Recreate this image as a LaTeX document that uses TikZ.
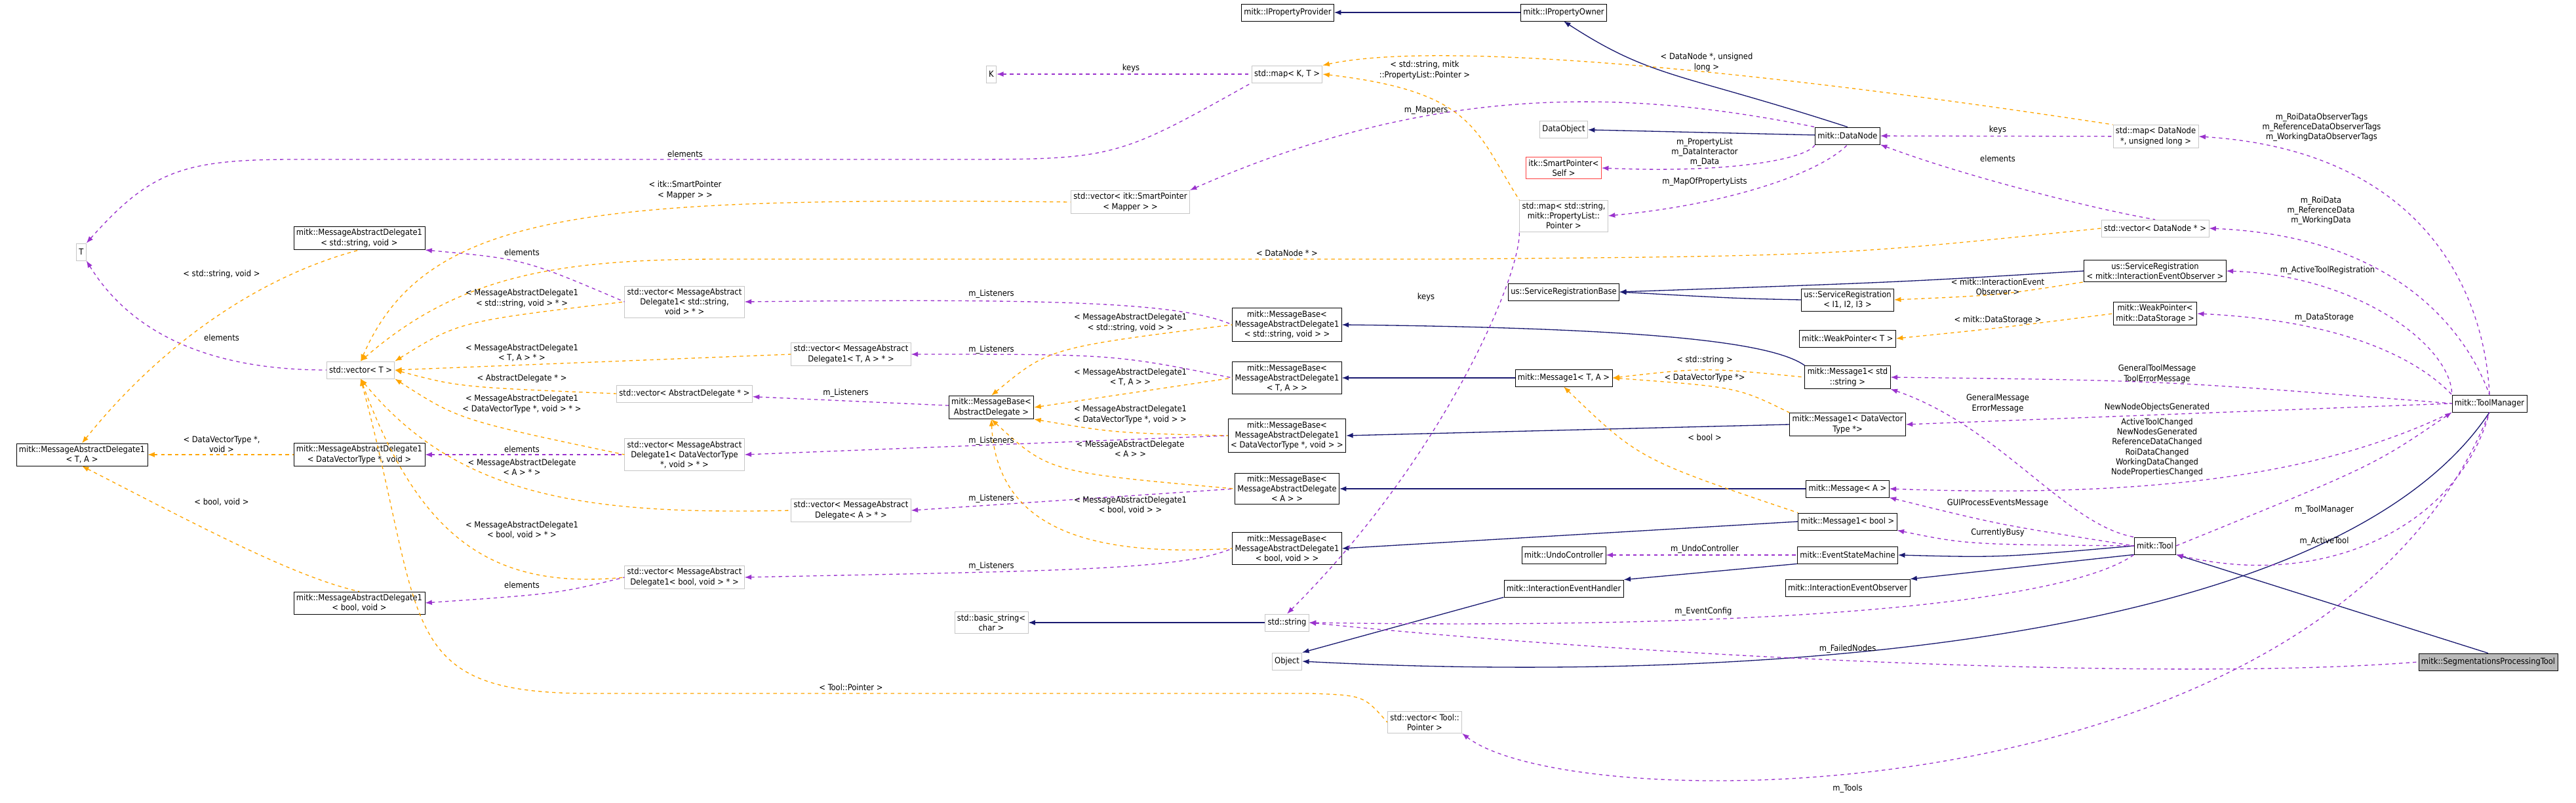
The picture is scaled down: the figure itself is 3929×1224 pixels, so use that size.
\documentclass[tikz,border=0pt]{standalone}
\usepackage{fontspec}
\setmainfont{DejaVu Sans Condensed}
\usetikzlibrary{arrows.meta}

\definecolor{inhblue}{RGB}{25,25,112}
\definecolor{usepurple}{RGB}{154,50,205}
\definecolor{tplorange}{RGB}{255,165,0}

\tikzset{
    cls/.style = {draw=black, fill=white, font=\fontsize{7.3}{8.6}\selectfont, align=center,
                  inner sep=2.2pt, minimum height=0.52cm, line width=0.45pt},
    ext/.style = {cls, draw=gray!45},
    lab/.style = {font=\fontsize{7.3}{8.6}\selectfont, align=center, inner sep=0pt},
    inh/.style = {draw=inhblue, line width=0.75pt, {Latex[length=6pt,width=4.5pt]}-},
    use/.style = {draw=usepurple, line width=0.75pt, dashed, {Latex[length=6pt,width=4.5pt]}-},
    tpl/.style = {draw=tplorange, line width=0.75pt, dashed, {Latex[length=6pt,width=4.5pt]}-}
}

\newcommand{\lbl}[3]{\node[lab] at (#1,#2) {#3};}

\begin{document}
\begin{tikzpicture}[x=0.02cm, y=-0.02cm]

\useasboundingbox (0,0) rectangle (3929,1224);

% column of templates on the left
\node (tt) [ext] at (124,384) {T};
\node (mad1ta) [cls] at (125,693) {mitk::MessageAbstractDelegate1\\< T, A >};
\node (mad1str) [cls] at (548,363) {mitk::MessageAbstractDelegate1\\< std::string, void >};
\node (vect) [ext] at (550,564) {std::vector< T >};
\node (mad1dvt) [cls] at (548,693) {mitk::MessageAbstractDelegate1\\< DataVectorType *, void >};
\node (mad1bool) [cls] at (548,919) {mitk::MessageAbstractDelegate1\\< bool, void >};

% listener vectors
\node (svecstr) [ext] at (1044,460) {std::vector< MessageAbstract\\Delegate1< std::string,\\ void > * >};
\node (svecta) [ext] at (1298,540) {std::vector< MessageAbstract\\Delegate1< T, A > * >};
\node (svecad) [ext] at (1044,600) {std::vector< AbstractDelegate * >};
\node (svecdvt) [ext] at (1044,693) {std::vector< MessageAbstract\\Delegate1< DataVectorType\\ *, void > * >};
\node (sveca) [ext] at (1298,778) {std::vector< MessageAbstract\\Delegate< A > * >};
\node (svecbool) [ext] at (1044,880) {std::vector< MessageAbstract\\Delegate1< bool, void > * >};

% message bases
\node (mbad) [cls] at (1512,621) {mitk::MessageBase<\\ AbstractDelegate >};
\node (mbstr) [cls] at (1963,495) {mitk::MessageBase<\\ MessageAbstractDelegate1\\< std::string, void > >};
\node (mbta) [cls] at (1963,576) {mitk::MessageBase<\\ MessageAbstractDelegate1\\< T, A > >};
\node (mbdvt) [cls] at (1963,664) {mitk::MessageBase<\\ MessageAbstractDelegate1\\< DataVectorType *, void > >};
\node (mba) [cls] at (1963,745) {mitk::MessageBase<\\ MessageAbstractDelegate\\< A > >};
\node (mbbool) [cls] at (1963,836) {mitk::MessageBase<\\ MessageAbstractDelegate1\\< bool, void > >};

% top part
\node (propprov) [cls] at (1964,19) {mitk::IPropertyProvider};
\node (propowner) [cls] at (2385,19) {mitk::IPropertyOwner};
\node (kkey) [ext] at (1512,113) {K};
\node (mapkt) [ext] at (1963,113) {std::map< K, T >};
\node (vecmapper) [ext] at (1724,308) {std::vector< itk::SmartPointer\\< Mapper > >};
\node (dataobj) [ext] at (2385,197) {DataObject};
\node (smartself) [cls, draw=red!75] at (2385,256) {itk::SmartPointer<\\ Self >};
\node (mapstrpl) [ext] at (2385,329) {std::map< std::string,\\ mitk::PropertyList::\\ Pointer >};
\node (datanode) [cls] at (2818,207) {mitk::DataNode};
\node (mapdn) [ext] at (3288,208) {std::map< DataNode\\ *, unsigned long >};
\node (vecdn) [ext] at (3287,348) {std::vector< DataNode * >};

% middle column
\node (srbase) [cls] at (2385,445) {us::ServiceRegistrationBase};
\node (m1ta) [cls] at (2385,576) {mitk::Message1< T, A >};
\node (undo) [cls] at (2385,846) {mitk::UndoController};
\node (ieh) [cls] at (2385,897) {mitk::InteractionEventHandler};
\node (basicstr) [ext] at (1512,949) {std::basic\_string<\\ char >};
\node (stdstr) [ext] at (1963,949) {std::string};
\node (object) [ext] at (1963,1008) {Object};
\node (vectool) [ext] at (2173,1101) {std::vector< Tool::\\ Pointer >};

\node (sr123) [cls] at (2818,457) {us::ServiceRegistration\\< I1, I2, I3 >};
\node (wpt) [cls] at (2818,516) {mitk::WeakPointer< T >};
\node (m1str) [cls] at (2818,575) {mitk::Message1< std\\ ::string >};
\node (m1dvt) [cls] at (2818,647) {mitk::Message1< DataVector\\ Type *>};
\node (msga) [cls] at (2818,745) {mitk::Message< A >};
\node (m1bool) [cls] at (2818,795) {mitk::Message1< bool >};
\node (esm) [cls] at (2818,846) {mitk::EventStateMachine};
\node (ieo) [cls] at (2818,896) {mitk::InteractionEventObserver};

\node (srieo) [cls] at (3287,413) {us::ServiceRegistration\\< mitk::InteractionEventObserver >};
\node (wpds) [cls] at (3287,478) {mitk::WeakPointer<\\ mitk::DataStorage >};
\node (tool) [cls] at (3287,832) {mitk::Tool};
\node (toolmgr) [cls] at (3797,615) {mitk::ToolManager};
\node (spt) [cls, fill=gray!55] at (3795,1009) {mitk::SegmentationsProcessingTool};

% inheritance
\draw[inh] (propprov) -- (propowner);
\draw[inh] (propowner.south) .. controls (2520,120) and (2560,110) .. (datanode.north);
\draw[inh] (dataobj) -- (datanode);
\draw[inh] (srbase.east) .. controls (2900,430) .. (srieo.west);
\draw[inh] (srbase.east) .. controls (2650,455) .. (sr123.west);
\draw[inh] (mbstr.east) .. controls (2500,500) and (2700,520) .. (m1str.north west);
\draw[inh] (mbta) -- (m1ta);
\draw[inh] (mbdvt.east) -- (m1dvt.west);
\draw[inh] (mba) -- (msga);
\draw[inh] (mbbool.east) -- (m1bool.west);
\draw[inh] (ieh.north east) -- (esm.south west);
\draw[inh] (object.north east) -- (ieh.south west);
\draw[inh] (esm.east) .. controls (3050,850) .. (tool.west);
\draw[inh] (ieo.north east) -- (tool.south west);
\draw[inh] (basicstr) -- (stdstr);
\draw[inh] (object.east) .. controls (2600,1040) and (3550,1000) .. (toolmgr.south);
\draw[inh] (tool.south east) -- (spt.north);

% members
\draw[use] (kkey) -- (mapkt);
\draw[use] (tt.north east) .. controls (230,260) and (280,243) .. (450,243) -- (1450,243) .. controls (1700,243) .. (mapkt.south west);
\draw[use] (tt.south east) .. controls (220,540) and (380,564) .. (vect.west);
\draw[use] (mad1str.south east) .. controls (800,395) .. (svecstr.west);
\draw[use] (mad1dvt) -- (svecdvt);
\draw[use] (mad1bool.east) .. controls (850,905) .. (svecbool.west);
\draw[use] (svecstr.east) .. controls (1600,455) and (1800,460) .. (mbstr.west);
\draw[use] (svecta.east) .. controls (1700,540) .. (mbta.west);
\draw[use] (svecad) -- (mbad);
\draw[use] (svecdvt.east) -- (mbdvt.west);
\draw[use] (sveca.east) -- (mba.west);
\draw[use] (svecbool.east) .. controls (1600,870) and (1800,870) .. (mbbool.west);
\draw[use] (vecmapper.north east) .. controls (2200,120) and (2500,140) .. (datanode.north west);
\draw[use] (smartself.east) .. controls (2650,265) and (2760,240) .. (datanode.south west);
\draw[use] (mapstrpl.east) .. controls (2650,310) and (2780,260) .. (datanode.south);
\draw[use] (stdstr.north) .. controls (2200,700) and (2320,420) .. (mapstrpl.south west);
\draw[use] (datanode) -- (mapdn);
\draw[use] (datanode.south east) .. controls (3000,270) and (3200,320) .. (vecdn.north);
\draw[use] (mapdn.east) .. controls (3700,230) and (3790,450) .. (toolmgr.north);
\draw[use] (vecdn.east) .. controls (3650,360) and (3760,500) .. (toolmgr.north);
\draw[use] (srieo.east) .. controls (3600,420) and (3740,530) .. (toolmgr.north west);
\draw[use] (wpds.east) .. controls (3600,490) and (3700,560) .. (toolmgr.north west);
\draw[use] (m1str.east) .. controls (3300,580) .. (toolmgr.west);
\draw[use] (m1dvt.east) -- (toolmgr.west);
\draw[use] (msga.east) .. controls (3300,760) and (3550,720) .. (toolmgr.south west);
\draw[use] (m1str.south east) .. controls (3050,650) and (3150,800) .. (tool.north west);
\draw[use] (msga.south east) .. controls (3050,800) .. (tool.west);
\draw[use] (m1bool.south east) .. controls (3000,830) .. (tool.west);
\draw[use] (undo) -- (esm);
\draw[use] (stdstr.east) .. controls (2700,960) and (3150,920) .. (tool.south west);
\draw[use] (stdstr.east) .. controls (2500,1000) and (3300,1040) .. (spt.west);
\draw[use] (toolmgr.south west) .. controls (3620,710) .. (tool.east);
\draw[use] (tool.south east) .. controls (3550,900) and (3750,800) .. (toolmgr.south);
\draw[use] (vectool.south east) .. controls (2400,1250) and (3550,1250) .. (toolmgr.south);

% template instances
\draw[tpl] (mapkt.north east) .. controls (2200,60) and (2700,110) .. (mapdn.north west);
\draw[tpl] (mapkt.east) .. controls (2250,140) and (2250,200) .. (mapstrpl.north west);
\draw[tpl] (vect.north) .. controls (650,320) and (900,300) .. (vecmapper.west);
\draw[tpl] (vect.north) .. controls (700,420) and (850,395) .. (1100,395) -- (2200,395) .. controls (2800,390) .. (vecdn.west);
\draw[tpl] (vect.north east) .. controls (700,490) .. (svecstr.west);
\draw[tpl] (vect.east) -- (svecta.west);
\draw[tpl] (vect.east) .. controls (700,590) .. (svecad.west);
\draw[tpl] (vect.south east) .. controls (700,640) .. (svecdvt.west);
\draw[tpl] (vect.south) .. controls (700,760) and (900,785) .. (sveca.west);
\draw[tpl] (vect.south) .. controls (640,820) and (750,900) .. (svecbool.west);
\draw[tpl] (vect.south) .. controls (650,950) and (600,1057) .. (900,1057) -- (2000,1057) .. controls (2080,1060) .. (vectool.west);
\draw[tpl] (mad1ta.north) .. controls (250,520) and (400,420) .. (mad1str.south);
\draw[tpl] (mad1ta) -- (mad1dvt);
\draw[tpl] (mad1ta.south) .. controls (300,800) and (450,880) .. (mad1bool.north);
\draw[tpl] (mbad.north) .. controls (1600,530) .. (mbstr.west);
\draw[tpl] (mbad.east) -- (mbta.west);
\draw[tpl] (mbad.south east) .. controls (1700,660) .. (mbdvt.west);
\draw[tpl] (mbad.south) .. controls (1600,720) .. (mba.west);
\draw[tpl] (mbad.south) .. controls (1520,800) and (1650,850) .. (mbbool.west);
\draw[tpl] (sr123.east) .. controls (3050,450) .. (srieo.south west);
\draw[tpl] (wpt.east) .. controls (3050,500) .. (wpds.west);
\draw[tpl] (m1ta.east) .. controls (2600,560) .. (m1str.west);
\draw[tpl] (m1ta.east) .. controls (2650,590) .. (m1dvt.north west);
\draw[tpl] (m1ta.south) .. controls (2500,700) .. (m1bool.north west);

% labels
\lbl{1725}{104}{keys}
\lbl{1045}{235}{elements}
\lbl{338}{515}{elements}
\lbl{796}{385}{elements}
\lbl{796}{685}{elements}
\lbl{796}{892}{elements}
\lbl{1512}{448}{m\_Listeners}
\lbl{1512}{533}{m\_Listeners}
\lbl{1290}{599}{m\_Listeners}
\lbl{1512}{672}{m\_Listeners}
\lbl{1512}{760}{m\_Listeners}
\lbl{1512}{863}{m\_Listeners}
\lbl{2175}{168}{m\_Mappers}
\lbl{2600}{232}{m\_PropertyList\\m\_DataInteractor\\m\_Data}
\lbl{2600}{277}{m\_MapOfPropertyLists}
\lbl{2175}{453}{keys}
\lbl{3047}{198}{keys}
\lbl{3047}{242}{elements}
\lbl{3541}{194}{m\_RoiDataObserverTags\\m\_ReferenceDataObserverTags\\m\_WorkingDataObserverTags}
\lbl{3540}{321}{m\_RoiData\\m\_ReferenceData\\m\_WorkingData}
\lbl{3550}{412}{m\_ActiveToolRegistration}
\lbl{3545}{484}{m\_DataStorage}
\lbl{3290}{570}{GeneralToolMessage\\ToolErrorMessage}
\lbl{3047}{615}{GeneralMessage\\ErrorMessage}
\lbl{3290}{621}{NewNodeObjectsGenerated}
\lbl{3290}{682}{ActiveToolChanged\\NewNodesGenerated\\ReferenceDataChanged\\RoiDataChanged\\WorkingDataChanged\\NodePropertiesChanged}
\lbl{3047}{767}{GUIProcessEventsMessage}
\lbl{3047}{812}{CurrentlyBusy}
\lbl{3545}{777}{m\_ToolManager}
\lbl{3545}{825}{m\_ActiveTool}
\lbl{2600}{837}{m\_UndoController}
\lbl{2598}{932}{m\_EventConfig}
\lbl{2818}{989}{m\_FailedNodes}
\lbl{2818}{1202}{m\_Tools}
\lbl{2173}{107}{< std::string, mitk\\::PropertyList::Pointer >}
\lbl{2603}{95}{< DataNode *, unsigned\\long >}
\lbl{1045}{290}{< itk::SmartPointer\\< Mapper > >}
\lbl{1963}{386}{< DataNode * >}
\lbl{338}{418}{< std::string, void >}
\lbl{338}{677}{< DataVectorType *,\\void >}
\lbl{338}{765}{< bool, void >}
\lbl{796}{455}{< MessageAbstractDelegate1\\< std::string, void > * >}
\lbl{796}{538}{< MessageAbstractDelegate1\\< T, A > * >}
\lbl{796}{577}{< AbstractDelegate * >}
\lbl{796}{616}{< MessageAbstractDelegate1\\< DataVectorType *, void > * >}
\lbl{796}{712}{< MessageAbstractDelegate\\< A > * >}
\lbl{796}{808}{< MessageAbstractDelegate1\\< bool, void > * >}
\lbl{1298}{1048}{< Tool::Pointer >}
\lbl{1724}{492}{< MessageAbstractDelegate1\\< std::string, void > >}
\lbl{1724}{575}{< MessageAbstractDelegate1\\< T, A > >}
\lbl{1724}{632}{< MessageAbstractDelegate1\\< DataVectorType *, void > >}
\lbl{1724}{684}{< MessageAbstractDelegate\\< A > >}
\lbl{1724}{770}{< MessageAbstractDelegate1\\< bool, void > >}
\lbl{3047}{437}{< mitk::InteractionEvent\\Observer >}
\lbl{3047}{488}{< mitk::DataStorage >}
\lbl{2600}{549}{< std::string >}
\lbl{2600}{576}{< DataVectorType *>}
\lbl{2600}{667}{< bool >}

\end{tikzpicture}
\end{document}
